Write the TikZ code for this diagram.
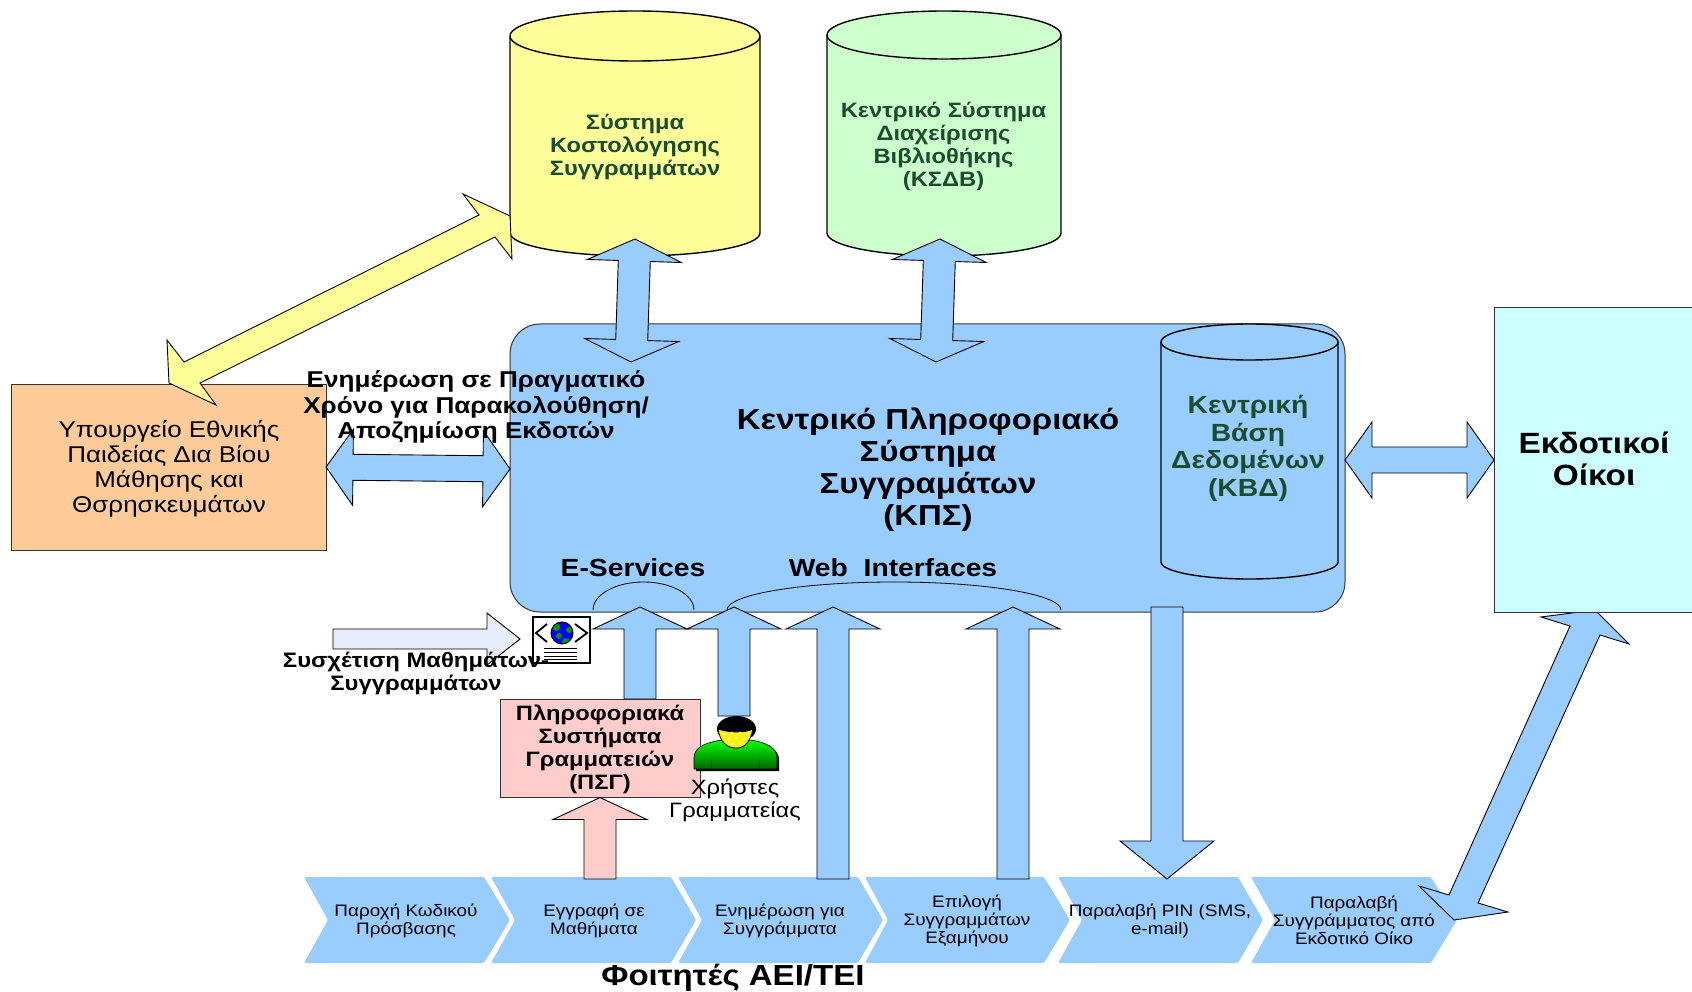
\documentclass[tikz,border=0pt]{standalone}
\usepackage{fontspec}
\setmainfont{Liberation Sans}[FakeStretch=1.14]
\usetikzlibrary{calc}

\definecolor{lightblue}{HTML}{99CCFF}
\definecolor{paleyellow}{HTML}{FFFF99}
\definecolor{palegreen}{HTML}{CCFFCC}
\definecolor{paleorange}{HTML}{FFCC99}
\definecolor{palecyan}{HTML}{CCFFFF}
\definecolor{palepink}{HTML}{FFCCCC}
\definecolor{paleslate}{HTML}{E6ECF8}
\definecolor{darkgreentext}{HTML}{1A4D2E}

\tikzset{
    blockarrow/.style={draw=black,line width=0.9pt,line join=miter,fill=lightblue},
    plainbox/.style={draw=black!80,line width=1pt,inner sep=0pt,align=center},
    dbline/.style={draw=black,line width=1.4pt},
    chevlabel/.style={font=\fontsize{16.6}{18}\selectfont,align=center},
    bodylabel/.style={font=\fontsize{22.8}{25}\selectfont,align=center},
    boldlabel/.style={font=\fontsize{20.8}{23}\selectfont\bfseries,align=center},
    dblabel/.style={boldlabel,text=darkgreentext}
}

% block arrows: style, from, to, half shaft, half head, head length
\newcommand{\oneblock}[6][]{
    \draw[blockarrow,#1] ($(#2)!#4!90:(#3)$) -- ($(#3)!#6!(#2)!#4!-90:(#2)$)
        -- ($(#3)!#6!(#2)!#5!-90:(#2)$) -- (#3) -- ($(#3)!#6!(#2)!#5!90:(#2)$)
        -- ($(#3)!#6!(#2)!#4!90:(#2)$) -- ($(#2)!#4!-90:(#3)$) -- cycle;
}
\newcommand{\dblblock}[6][]{
    \draw[blockarrow,#1] (#2) -- ($(#2)!#6!(#3)!#5!90:(#3)$) -- ($(#2)!#6!(#3)!#4!90:(#3)$)
        -- ($(#3)!#6!(#2)!#4!-90:(#2)$) -- ($(#3)!#6!(#2)!#5!-90:(#2)$) -- (#3)
        -- ($(#3)!#6!(#2)!#5!90:(#2)$) -- ($(#3)!#6!(#2)!#4!90:(#2)$)
        -- ($(#2)!#6!(#3)!#4!-90:(#3)$) -- ($(#2)!#6!(#3)!#5!-90:(#3)$) -- cycle;
}
% database barrel: fill, left, half width, top line, bottom line, top radius, bottom radius
\newcommand{\dbbarrel}[7]{
    \draw[dbline,fill=#1] (#2,#4) -- (#2,#5) arc (180:360:#3pt and #7pt) -- ++(0,#4-#5) arc (0:180:#3pt and #6pt) -- cycle;
    \draw[dbline] (#2,#4) arc (180:360:#3pt and #6pt);
}

\begin{document}
\begin{tikzpicture}[x=1pt,y=-1pt]
    \useasboundingbox (0,0) rectangle (1692,992);
    \clip (0,0) rectangle (1692,992);

    % bottom row
    \foreach \lft/\notch/\rgt/\tip in {304/328/484/510,491/515/671/696,678/702/858/883,865/888/1044/1070,1058/1082/1238/1263,1251/1275/1431/1457}
        \fill[lightblue,rounded corners=1.5pt] (\lft,877) -- (\rgt,877) -- (\tip,920) -- (\rgt,963) -- (\lft,963) -- (\notch,920) -- cycle;

    % main blocks
    \node[plainbox,rounded corners=30pt,fill=lightblue,minimum width=835pt,minimum height=288pt] (kps) at (927.5,468) {};
    \node[plainbox,fill=paleorange,minimum width=315pt,minimum height=166pt] (ministry) at (168.5,467) {};
    \dbbarrel{paleyellow}{510}{125}{36}{233}{25}{23}
    \dbbarrel{palegreen}{827}{117}{35}{233}{24}{23}
    \dbbarrel{lightblue}{1161}{88.5}{342}{562}{18}{17}

    \draw[line width=0.8pt] (593,610) arc (180:0:50.5pt and 28pt);
    \draw[line width=0.8pt] (727,610) arc (180:0:167pt and 28pt);

    % arrows between the blocks
    \coordinate (costtop) at (635,239);
    \coordinate (costbot) at (631,362);
    \coordinate (libtop) at (940,239);
    \coordinate (libbot) at (936,362);
    \coordinate (minright) at (326,467);
    \coordinate (kpsleft) at (510,469);
    \coordinate (kpsright) at (1345,460);
    \coordinate (publeft) at (1494,460);
    \dblblock{costtop}{costbot}{16pt}{47pt}{22pt}
    \dblblock{libtop}{libbot}{16pt}{47pt}{22pt}
    \dblblock{minright}{kpsleft}{13pt}{38pt}{27pt}
    \dblblock{kpsright}{publeft}{13pt}{38pt}{27pt}

    \coordinate (mintip) at (169,383);
    \coordinate (costtip) at (510,216);
    \draw[blockarrow,fill=paleyellow] (mintip) -- (216,405) -- (200,383) -- (495,237) -- (512,259) -- (costtip)
        -- (463,194) -- (479,215) -- (184,362) -- (167,340) -- cycle;

    \coordinate (pubtip) at (1595,610);
    \coordinate (steptip) at (1454,920);
    \draw[blockarrow] (pubtip) -- (1629,644) -- (1600,635) -- (1478,903) -- (1508,912) -- (steptip)
        -- (1419,886) -- (1449,895) -- (1570,626) -- (1541,617) -- cycle;

    \node[plainbox,fill=palecyan,minimum width=206pt,minimum height=305pt] (publishers) at (1597,460) {};

    % arrows up from the row
    \foreach \nm/\x/\b in {a/640/699,b/734/716,c/833/879,d/1013/879}
    {
        \coordinate (up\nm) at (\x,607);
        \coordinate (low\nm) at (\x,\b);
        \oneblock{low\nm}{up\nm}{16pt}{47pt}{22pt}
    }
    \coordinate (pindown) at (1167,607);
    \coordinate (pinstep) at (1167,879);
    \oneblock{pindown}{pinstep}{16pt}{47pt}{38pt}

    \node[plainbox,fill=palepink,minimum width=200pt,minimum height=98pt] (psg) at (600,748) {};
    \coordinate (regstep) at (600,879);
    \oneblock[fill=palepink]{regstep}{psg.south}{16pt}{47pt}{22pt}
    \coordinate (mapstart) at (333,639);
    \coordinate (maptip) at (520,639);
    \oneblock[fill=paleslate]{mapstart}{maptip}{10pt}{26pt}{33pt}

    % web service icon
    \draw[fill=white,line width=1.2pt] (533,617) rectangle (590,663);
    \begin{scope}
        \clip (562,633) circle (11);
        \fill[blue] (562,633) circle (11);
        \fill[green!60!black] (556,627) circle (4) (559,636) circle (3) (569,630) circle (3) (566,642) circle (4);
    \end{scope}
    \draw[line width=1pt] (562,633) circle (11);
    \draw[line width=1.8pt] (547,624) -- (536,633) -- (547,642) (575,624) -- (587,633) -- (575,642);
    \foreach \y in {648,652,656,659}
        \draw[line width=0.8pt] (544,\y) -- (577,\y);

    % user icon
    \fill[black] (696,771) -- (696,759) .. controls (697,747) and (712,744) .. (724,742) -- (752,742)
        .. controls (768,744) and (779,750) .. (779,759) -- (779,771) -- cycle;
    \shade[top color=green,bottom color=green!40!black,draw=black,line width=0.6pt] (694,769) -- (694,757) .. controls (695,745) and (710,742) .. (722,740) -- (750,740)
        .. controls (766,742) and (777,748) .. (777,757) -- (777,769) -- cycle;
    \draw (711,759) -- (711,769) (759,759) -- (759,769);
    \fill[black] (736.5,729) ellipse (19.5 and 13);
    \draw[fill=yellow,line width=0.8pt] (718,729) .. controls (730,733) and (745,733) .. (753,729)
        .. controls (750,742) and (745,748) .. (736,748) .. controls (727,748) and (720,742) .. (718,729) -- cycle;
    \foreach \x/\y in {724/734,732/733,740/733,748/734,728/739,736/738,744/739,732/744,740/744}
        \fill[white] (\x,\y) circle (1.4);

    % labels
    \node[font=\fontsize{28.9}{32}\selectfont\bfseries,align=center] (kpstext) at (928,470) {Κεντρικό Πληροφοριακό\\Σύστημα\\Συγγραμάτων\\(ΚΠΣ)};
    \node[dblabel] (costtext) at (635,147) {Σύστημα\\Κοστολόγησης\\Συγγραμμάτων};
    \node[dblabel] (libtext) at (943.5,146.5) {Κεντρικό Σύστημα\\Διαχείρισης\\Βιβλιοθήκης\\(ΚΣΔΒ)};
    \node[font=\fontsize{24.8}{27.5}\selectfont\bfseries,text=darkgreentext,align=center] (kbdtext) at (1248,448.5) {Κεντρική\\Βάση\\Δεδομένων\\(ΚΒΔ)};
    \node[bodylabel] (ministrytext) at (169,468.5) {Υπουργείο Εθνικής\\Παιδείας Δια Βίου\\Μάθησης και\\Θσρησκευμάτων};
    \node[font=\fontsize{22.9}{25.5}\selectfont\bfseries,align=center] (realtime) at (476,407) {Ενημέρωση σε Πραγματικό\\Χρόνο για Παρακολούθηση/\\Αποζημίωση Εκδοτών};
    \node[font=\fontsize{24.8}{27}\selectfont\bfseries] (eserv) at (633,568) {E-Services};
    \node[font=\fontsize{24.8}{27}\selectfont\bfseries] (webint) at (893,568) {Web\ \ Interfaces};
    \node[font=\fontsize{20.9}{23}\selectfont\bfseries,align=center] (maptext) at (416,673.5) {Συσχέτιση Μαθημάτων-\\Συγγραμμάτων};
    \node[boldlabel] (psgtext) at (600,749.5) {Πληροφοριακά\\Συστήματα\\Γραμματειών\\(ΠΣΓ)};
    \node[font=\fontsize{20.8}{23}\selectfont,align=center] (usertext) at (735,800) {Χρήστες\\Γραμματείας};
    \node[font=\fontsize{29.3}{32}\selectfont\bfseries,align=center] (pubtext) at (1594,458.5) {Εκδοτικοί\\Οίκοι};
    \node[font=\fontsize{29}{32}\selectfont\bfseries] (students) at (733,978) {Φοιτητές ΑΕΙ/ΤΕΙ};

    \foreach \nm/\x/\txt in {s1/406/{Παροχή Κωδικού\\Πρόσβασης},s2/594/{Εγγραφή σε\\Μαθήματα},s3/780/{Ενημέρωση για\\Συγγράμματα},s4/967/{Επιλογή\\Συγγραμμάτων\\Εξαμήνου},s5/1160/{Παραλαβή PIN (SMS,\\e-mail)},s6/1354/{Παραλαβή\\Συγγράμματος από\\Εκδοτικό Οίκο}}
        \node[chevlabel] (\nm) at (\x,920.5) {\txt};
\end{tikzpicture}
\end{document}
